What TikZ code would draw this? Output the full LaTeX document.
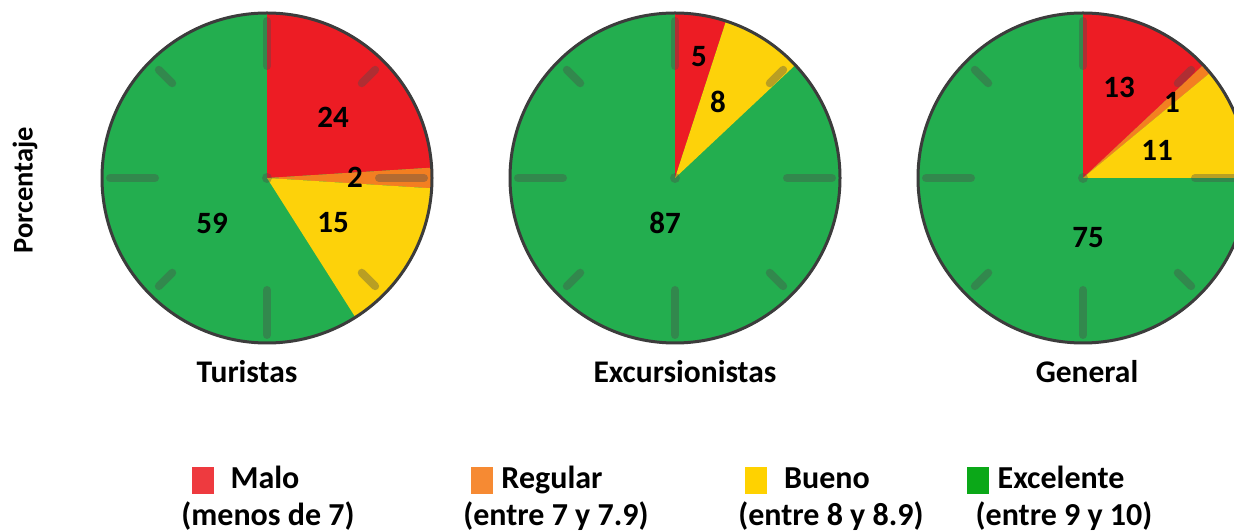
\documentclass[tikz,border=0pt]{standalone}
\usepackage{fontspec}
\setmainfont{Carlito}
\definecolor{pgreen}{HTML}{23AE4F}
\definecolor{pred}{HTML}{ED1C24}
\definecolor{porange}{HTML}{F37F21}
\definecolor{pyellow}{HTML}{FDD20A}
\definecolor{lred}{HTML}{EE3A3F}
\definecolor{lorange}{HTML}{F68A33}
\definecolor{lyellow}{HTML}{FFD200}
\definecolor{lgreen}{HTML}{0BA818}
\definecolor{rimgray}{HTML}{3C3C3C}
\begin{document}
\begin{tikzpicture}[x=1pt,y=1pt,
  num/.style={font=\fontsize{31}{31}\selectfont\bfseries, inner sep=0pt},
  title/.style={font=\fontsize{31.5}{31.5}\selectfont\bfseries, inner sep=0pt, anchor=base},
  leg/.style={font=\fontsize{32}{32}\selectfont\bfseries, inner sep=0pt, anchor=base},
  tickmark/.style={line width=8pt, line cap=round, black!70, opacity=0.38},
  rim/.style={line width=3pt, rimgray},
  swatch/.style={minimum width=22.6pt, minimum height=27.6pt, inner sep=0pt}
]
\useasboundingbox (0,0) rectangle (1234,532);
\clip (0,0) rectangle (1234,532);
\def\R{165}
\coordinate (c1) at (267,354);
\coordinate (c2) at (675,354);
\coordinate (c3) at (1083,354);

% ---- Pie 1: Turistas ----
\fill[pgreen] (c1) circle[radius=\R];
\fill[pred] (c1) -- +(90:\R) arc[start angle=90, end angle=3.6, radius=\R] -- cycle;
\fill[porange] (c1) -- +(3.6:\R) arc[start angle=3.6, end angle=-3.6, radius=\R] -- cycle;
\fill[pyellow] (c1) -- +(-3.6:\R) arc[start angle=-3.6, end angle=-57.6, radius=\R] -- cycle;

% ---- Pie 2: Excursionistas ----
\fill[pgreen] (c2) circle[radius=\R];
\fill[pred] (c2) -- +(90:\R) arc[start angle=90, end angle=72, radius=\R] -- cycle;
\fill[pyellow] (c2) -- +(72:\R) arc[start angle=72, end angle=43.2, radius=\R] -- cycle;

% ---- Pie 3: General ----
\fill[pgreen] (c3) circle[radius=\R];
\fill[pred] (c3) -- +(90:\R) arc[start angle=90, end angle=43.2, radius=\R] -- cycle;
\fill[porange] (c3) -- +(43.2:\R) arc[start angle=43.2, end angle=39.6, radius=\R] -- cycle;
\fill[pyellow] (c3) -- +(39.6:\R) arc[start angle=39.6, end angle=0, radius=\R] -- cycle;

% ---- clock ticks and rims ----
\foreach \c in {c1,c2,c3}{
  \foreach \a in {0,90,180,270}{
    \draw[tickmark] (\c) ++(\a:112) -- ++(\a:45);
  }
  \foreach \a in {45,135,225,315}{
    \draw[tickmark] (\c) ++(\a:134) -- ++(\a:19);
  }
  \fill[black!70, opacity=0.38] (\c) circle[radius=5];
  \draw[rim] (\c) circle[radius=\R];
}

% ---- slice numbers ----
\node[num] (n24) at (333,415) {24};
\node[num] (n2) at (355,355) {2};
\node[num] (n15) at (333,309) {15};
\node[num] (n59) at (212,309) {59};
\node[num] (n5) at (699,475) {5};
\node[num] (n8) at (718,430) {8};
\node[num] (n87) at (665,309) {87};
\node[num] (n13) at (1119,445) {13};
\node[num] (n1) at (1172,430) {1};
\node[num] (n11) at (1157,382) {11};
\node[num] (n75) at (1088,294) {75};

% ---- titles ----
\node[title] (t1) at (247,149) {Turistas};
\node[title] (t2) at (685,149) {Excursionistas};
\node[title] (t3) at (1087,149) {General};
\node[font=\fontsize{28.5}{28.5}\selectfont\bfseries, inner sep=0pt, rotate=90] (yl) at (25,342) {Porcentaje};

% ---- legend ----
\node[swatch, fill=lred] (s1) at (203,51.5) {};
\node[swatch, fill=lorange] (s2) at (482,51.5) {};
\node[swatch, fill=lyellow] (s3) at (756,51.5) {};
\node[swatch, fill=lgreen] (s4) at (978,51.5) {};
\node[leg] (l1a) at (265,43) {Malo};
\node[leg] (l1b) at (268,6) {(menos de 7)};
\node[leg] (l2a) at (552,43) {Regular};
\node[leg] (l2b) at (556,6) {(entre 7 y 7.9)};
\node[leg] (l3a) at (827,43) {Bueno};
\node[leg] (l3b) at (831,6) {(entre 8 y 8.9)};
\node[leg] (l4a) at (1061,43) {Excelente};
\node[leg] (l4b) at (1064,6) {(entre 9 y 10)};
\end{tikzpicture}
\end{document}
